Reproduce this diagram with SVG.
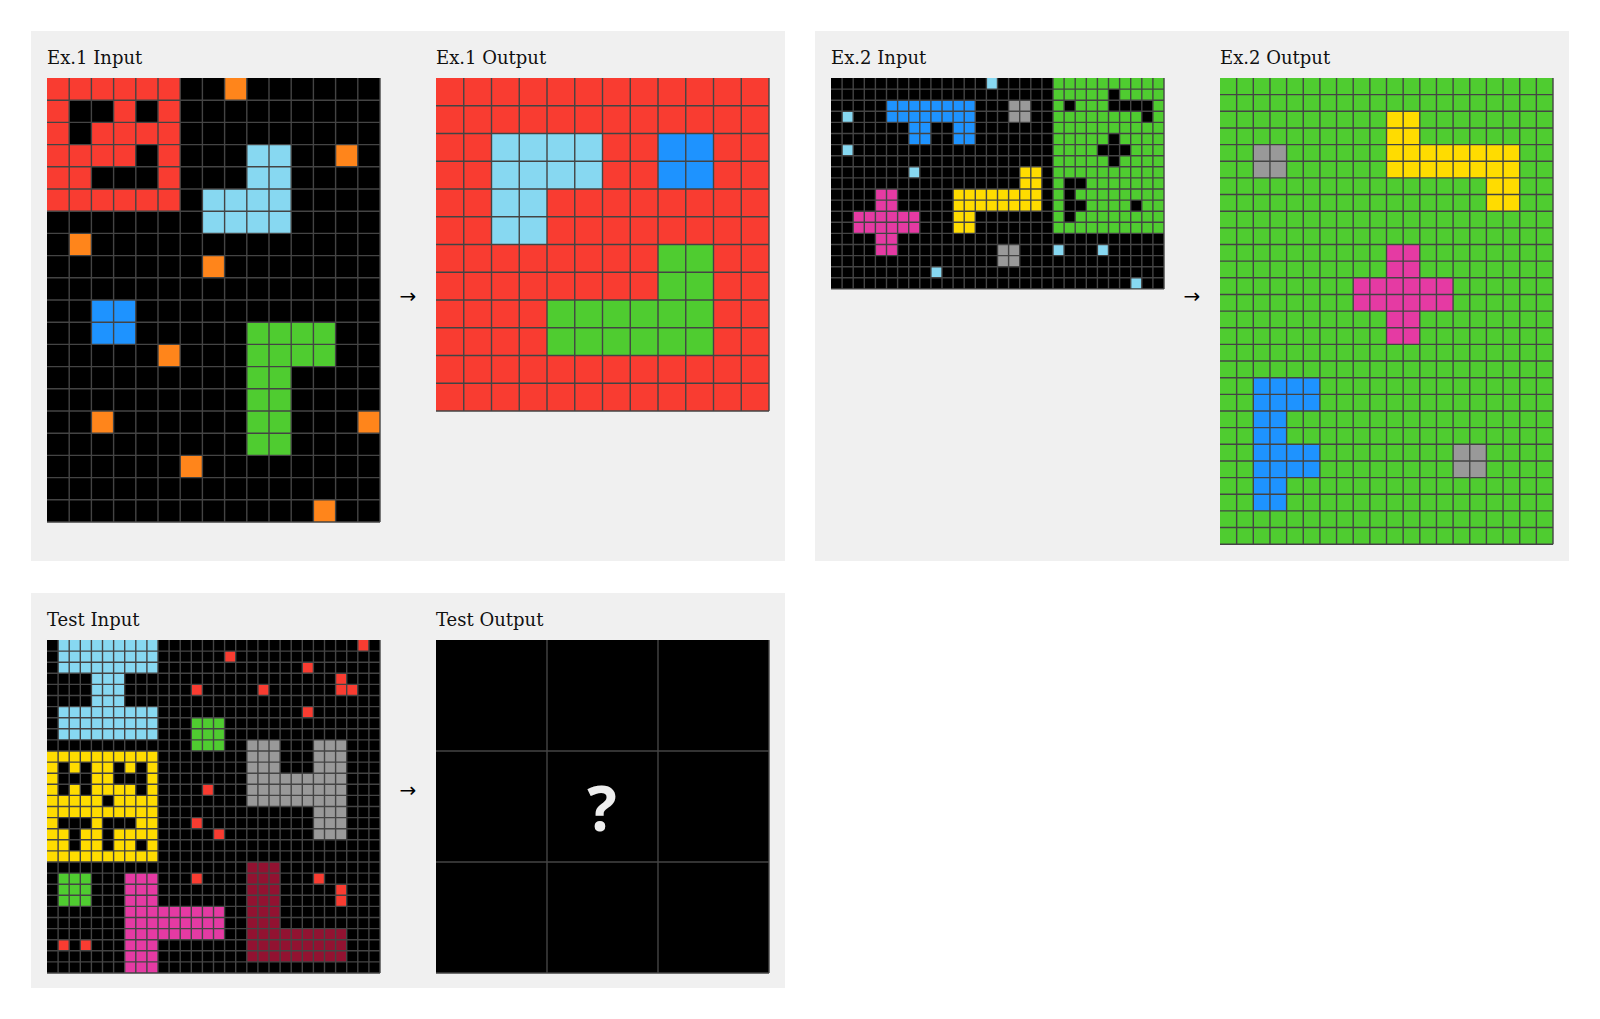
<svg xmlns="http://www.w3.org/2000/svg" width="1600" height="1019" viewBox="0 0 1600 1019">
<style>
.panel{fill:#f0f0f0}
.lbl{font-family:"DejaVu Serif","Liberation Serif",serif;font-size:18px;fill:#111}
.arr{font-family:"DejaVu Sans","Liberation Sans",sans-serif;font-size:20px;fill:#000;text-anchor:middle}
.gl{fill:none;stroke:#444444;stroke-width:1.4;vector-effect:non-scaling-stroke}
.k{fill:#000000}.r{fill:#F93C31}.o{fill:#FF851B}.lb{fill:#87D8F1}.b{fill:#1E93FF}
.g{fill:#4FCC30}.y{fill:#FFDC00}.m{fill:#E53AA3}.gr{fill:#999999}.mr{fill:#921231}
</style>
<rect width="1600" height="1019" fill="#ffffff"/>
<rect class="panel" x="31" y="31" width="754" height="530"/>
<rect class="panel" x="815" y="31" width="754" height="530"/>
<rect class="panel" x="31" y="593" width="754" height="395"/>

<text class="lbl" x="47" y="64">Ex.1 Input</text>
<text class="lbl" x="436" y="64">Ex.1 Output</text>
<text class="lbl" x="831" y="64">Ex.2 Input</text>
<text class="lbl" x="1220" y="64">Ex.2 Output</text>
<text class="lbl" x="47" y="626">Test Input</text>
<text class="lbl" x="436" y="626">Test Output</text>

<g id="ex1-input" transform="translate(47,78) scale(22.2)">
<rect class="k" width="15" height="20"/>
<g class="r">
<rect x="0" y="0" width="6" height="1"/><rect x="0" y="1" width="1" height="5"/><rect x="5" y="1" width="1" height="5"/>
<rect x="3" y="1" width="1" height="1"/><rect x="2" y="2" width="3" height="1"/><rect x="1" y="3" width="3" height="1"/>
<rect x="1" y="4" width="1" height="1"/><rect x="0" y="5" width="6" height="1"/>
</g>
<g class="o">
<rect x="8" y="0" width="1" height="1"/><rect x="13" y="3" width="1" height="1"/><rect x="1" y="7" width="1" height="1"/>
<rect x="7" y="8" width="1" height="1"/><rect x="5" y="12" width="1" height="1"/><rect x="2" y="15" width="1" height="1"/>
<rect x="14" y="15" width="1" height="1"/><rect x="6" y="17" width="1" height="1"/><rect x="12" y="19" width="1" height="1"/>
</g>
<rect class="lb" x="9" y="3" width="2" height="2"/><rect class="lb" x="7" y="5" width="4" height="2"/>
<rect class="b" x="2" y="10" width="2" height="2"/>
<rect class="g" x="9" y="11" width="4" height="2"/><rect class="g" x="9" y="13" width="2" height="4"/>
<path class="gl" d="M1 0V20M2 0V20M3 0V20M4 0V20M5 0V20M6 0V20M7 0V20M8 0V20M9 0V20M10 0V20M11 0V20M12 0V20M13 0V20M14 0V20M15 0V20M0 1H15M0 2H15M0 3H15M0 4H15M0 5H15M0 6H15M0 7H15M0 8H15M0 9H15M0 10H15M0 11H15M0 12H15M0 13H15M0 14H15M0 15H15M0 16H15M0 17H15M0 18H15M0 19H15M0 20H15"/>
</g>

<g id="ex1-output" transform="translate(436,78) scale(27.75)">
<rect class="r" width="12" height="12"/>
<rect class="lb" x="2" y="2" width="4" height="2"/><rect class="lb" x="2" y="4" width="2" height="2"/>
<rect class="b" x="8" y="2" width="2" height="2"/>
<rect class="g" x="8" y="6" width="2" height="2"/><rect class="g" x="4" y="8" width="6" height="2"/>
<path class="gl" d="M1 0V12M2 0V12M3 0V12M4 0V12M5 0V12M6 0V12M7 0V12M8 0V12M9 0V12M10 0V12M11 0V12M12 0V12M0 1H12M0 2H12M0 3H12M0 4H12M0 5H12M0 6H12M0 7H12M0 8H12M0 9H12M0 10H12M0 11H12M0 12H12"/>
</g>

<g id="ex2-input" transform="translate(831,78) scale(11.1)">
<rect class="k" width="30" height="19"/>
<rect class="g" x="20" y="0" width="10" height="14"/>
<g class="k">
<rect x="25" y="1" width="1" height="1"/><rect x="21" y="2" width="1" height="1"/><rect x="25" y="2" width="4" height="1"/>
<rect x="28" y="3" width="1" height="1"/><rect x="25" y="5" width="1" height="1"/><rect x="24" y="6" width="3" height="1"/>
<rect x="25" y="7" width="1" height="1"/><rect x="21" y="9" width="2" height="1"/><rect x="21" y="10" width="1" height="1"/>
<rect x="21" y="11" width="2" height="1"/><rect x="27" y="11" width="1" height="1"/><rect x="21" y="12" width="1" height="1"/>
</g>
<g class="lb">
<rect x="14" y="0" width="1" height="1"/><rect x="1" y="3" width="1" height="1"/><rect x="1" y="6" width="1" height="1"/>
<rect x="7" y="8" width="1" height="1"/><rect x="20" y="15" width="1" height="1"/><rect x="24" y="15" width="1" height="1"/>
<rect x="9" y="17" width="1" height="1"/><rect x="27" y="18" width="1" height="1"/>
</g>
<rect class="b" x="5" y="2" width="8" height="2"/><rect class="b" x="7" y="4" width="2" height="2"/><rect class="b" x="11" y="4" width="2" height="2"/>
<rect class="gr" x="16" y="2" width="2" height="2"/><rect class="gr" x="15" y="15" width="2" height="2"/>
<rect class="y" x="17" y="8" width="2" height="2"/><rect class="y" x="11" y="10" width="8" height="2"/><rect class="y" x="11" y="12" width="2" height="2"/>
<rect class="m" x="4" y="10" width="2" height="2"/><rect class="m" x="2" y="12" width="6" height="2"/><rect class="m" x="4" y="14" width="2" height="2"/>
<path class="gl" d="M1 0V19M2 0V19M3 0V19M4 0V19M5 0V19M6 0V19M7 0V19M8 0V19M9 0V19M10 0V19M11 0V19M12 0V19M13 0V19M14 0V19M15 0V19M16 0V19M17 0V19M18 0V19M19 0V19M20 0V19M21 0V19M22 0V19M23 0V19M24 0V19M25 0V19M26 0V19M27 0V19M28 0V19M29 0V19M30 0V19M0 1H30M0 2H30M0 3H30M0 4H30M0 5H30M0 6H30M0 7H30M0 8H30M0 9H30M0 10H30M0 11H30M0 12H30M0 13H30M0 14H30M0 15H30M0 16H30M0 17H30M0 18H30M0 19H30"/>
</g>

<g id="ex2-output" transform="translate(1220,78) scale(16.65)">
<rect class="g" width="20" height="28"/>
<rect class="y" x="10" y="2" width="2" height="2"/><rect class="y" x="10" y="4" width="8" height="2"/><rect class="y" x="16" y="6" width="2" height="2"/>
<rect class="gr" x="2" y="4" width="2" height="2"/><rect class="gr" x="14" y="22" width="2" height="2"/>
<rect class="m" x="10" y="10" width="2" height="2"/><rect class="m" x="8" y="12" width="6" height="2"/><rect class="m" x="10" y="14" width="2" height="2"/>
<rect class="b" x="2" y="18" width="4" height="2"/><rect class="b" x="2" y="20" width="2" height="2"/><rect class="b" x="2" y="22" width="4" height="2"/><rect class="b" x="2" y="24" width="2" height="2"/>
<path class="gl" d="M1 0V28M2 0V28M3 0V28M4 0V28M5 0V28M6 0V28M7 0V28M8 0V28M9 0V28M10 0V28M11 0V28M12 0V28M13 0V28M14 0V28M15 0V28M16 0V28M17 0V28M18 0V28M19 0V28M20 0V28M0 1H20M0 2H20M0 3H20M0 4H20M0 5H20M0 6H20M0 7H20M0 8H20M0 9H20M0 10H20M0 11H20M0 12H20M0 13H20M0 14H20M0 15H20M0 16H20M0 17H20M0 18H20M0 19H20M0 20H20M0 21H20M0 22H20M0 23H20M0 24H20M0 25H20M0 26H20M0 27H20M0 28H20"/>
</g>

<g id="test-input" transform="translate(47,640) scale(11.1)">
<rect class="k" width="30" height="30"/>
<rect class="lb" x="1" y="0" width="9" height="3"/><rect class="lb" x="4" y="3" width="3" height="3"/><rect class="lb" x="1" y="6" width="9" height="3"/>
<rect class="y" x="0" y="10" width="10" height="10"/>
<g class="k">
<rect x="1" y="11" width="1" height="1"/><rect x="3" y="11" width="1" height="1"/><rect x="6" y="11" width="1" height="1"/><rect x="8" y="11" width="1" height="1"/>
<rect x="1" y="12" width="3" height="1"/><rect x="6" y="12" width="3" height="1"/>
<rect x="1" y="13" width="1" height="1"/><rect x="3" y="13" width="1" height="1"/><rect x="8" y="13" width="1" height="1"/>
<rect x="5" y="14" width="1" height="1"/>
<rect x="1" y="16" width="3" height="1"/><rect x="5" y="16" width="3" height="1"/>
<rect x="2" y="17" width="1" height="2"/><rect x="5" y="17" width="1" height="2"/><rect x="8" y="18" width="1" height="1"/>
</g>
<rect class="g" x="13" y="7" width="3" height="3"/><rect class="g" x="1" y="21" width="3" height="3"/>
<rect class="gr" x="18" y="9" width="3" height="3"/><rect class="gr" x="24" y="9" width="3" height="3"/><rect class="gr" x="18" y="12" width="9" height="3"/><rect class="gr" x="24" y="15" width="3" height="3"/>
<rect class="m" x="7" y="21" width="3" height="3"/><rect class="m" x="7" y="24" width="9" height="3"/><rect class="m" x="7" y="27" width="3" height="3"/>
<rect class="mr" x="18" y="20" width="3" height="6"/><rect class="mr" x="18" y="26" width="9" height="3"/>
<g class="r">
<rect x="28" y="0" width="1" height="1"/><rect x="16" y="1" width="1" height="1"/><rect x="23" y="2" width="1" height="1"/>
<rect x="26" y="3" width="1" height="1"/><rect x="13" y="4" width="1" height="1"/><rect x="19" y="4" width="1" height="1"/>
<rect x="26" y="4" width="2" height="1"/><rect x="23" y="6" width="1" height="1"/><rect x="14" y="13" width="1" height="1"/>
<rect x="13" y="16" width="1" height="1"/><rect x="15" y="17" width="1" height="1"/><rect x="13" y="21" width="1" height="1"/>
<rect x="24" y="21" width="1" height="1"/><rect x="26" y="22" width="1" height="2"/><rect x="1" y="27" width="1" height="1"/>
<rect x="3" y="27" width="1" height="1"/>
</g>
<path class="gl" d="M1 0V30M2 0V30M3 0V30M4 0V30M5 0V30M6 0V30M7 0V30M8 0V30M9 0V30M10 0V30M11 0V30M12 0V30M13 0V30M14 0V30M15 0V30M16 0V30M17 0V30M18 0V30M19 0V30M20 0V30M21 0V30M22 0V30M23 0V30M24 0V30M25 0V30M26 0V30M27 0V30M28 0V30M29 0V30M30 0V30M0 1H30M0 2H30M0 3H30M0 4H30M0 5H30M0 6H30M0 7H30M0 8H30M0 9H30M0 10H30M0 11H30M0 12H30M0 13H30M0 14H30M0 15H30M0 16H30M0 17H30M0 18H30M0 19H30M0 20H30M0 21H30M0 22H30M0 23H30M0 24H30M0 25H30M0 26H30M0 27H30M0 28H30M0 29H30M0 30H30"/>
</g>

<g id="test-output">
<g transform="translate(436,640) scale(111)">
<rect class="k" width="3" height="3"/>
<path class="gl" d="M1 0V3M2 0V3M3 0V3M0 1H3M0 2H3M0 3H3"/>
</g>
<text x="602" y="831" font-family="'Open Sans','DejaVu Sans',sans-serif" font-size="62" font-weight="bold" fill="#eeeeee" text-anchor="middle">?</text>
</g>

<g id="connectors">
<text class="arr" x="408" y="303">→</text>
<text class="arr" x="1192" y="303">→</text>
<text class="arr" x="408" y="797">→</text>
</g>
</svg>
